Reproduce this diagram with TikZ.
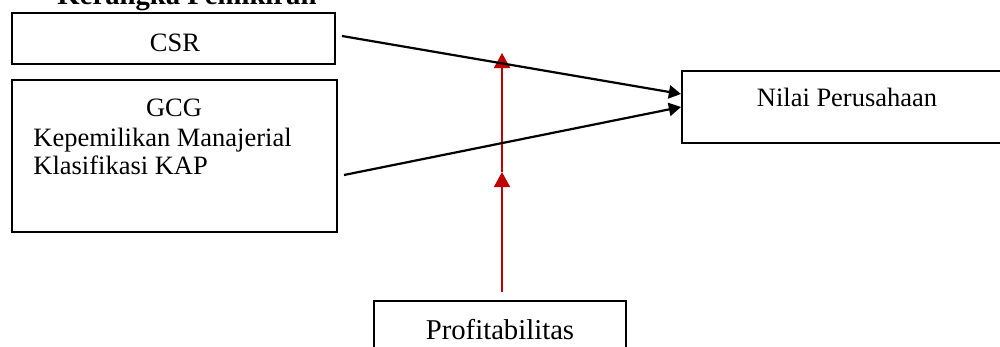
\documentclass[tikz,border=0pt]{standalone}
\usepackage{fontspec}
\setmainfont{Liberation Serif}
\usetikzlibrary{arrows.meta,calc}
\definecolor{profred}{RGB}{192,0,0}
\begin{document}
\begin{tikzpicture}[x=0.453pt,y=-0.453pt,
    kotak/.style={draw,line width=0.9pt,inner sep=0pt},
    teks/.style={inner sep=0pt,font=\fontsize{12}{14}\selectfont},
    panah/.style={line width=1pt,-{Triangle[width=6pt,length=5.5pt]}},
    panahmerah/.style={draw=profred,line width=0.9pt,
      -{Triangle[width=7.2pt,length=6.8pt]},profred}]
  \useasboundingbox (0,0) rectangle (1000,347);
  % judul (terpotong di atas)
  \node[teks,anchor=base west,font=\fontsize{13}{15}\selectfont\bfseries]
    (judul) at (57,4.5) {Kerangka Pemikiran};
  \draw
    (173.5,38.5) node[kotak,minimum width=146.3pt,minimum height=23.1pt] (csr){}
    (174.5,156) node[kotak,minimum width=147.2pt,minimum height=68.9pt] (gcg){}
    (847,107) node[kotak,minimum width=149.5pt,minimum height=32.6pt] (nilai){}
    (500,330) node[kotak,minimum width=114.2pt,minimum height=26.3pt] (prof){};
  \draw
    (175,52) node[teks,anchor=base] (t1){CSR}
    (174,117) node[teks,anchor=base] (t2){GCG}
    (33,147) node[teks,anchor=base west] (t3){Kepemilikan Manajerial}
    (33,175) node[teks,anchor=base west] (t4){Klasifikasi KAP}
    (847,107) node[teks,anchor=base] (t5){Nilai Perusahaan}
    (500,340) node[teks,anchor=base,font=\fontsize{13}{15}\selectfont] (t6){Profitabilitas};
  \coordinate (a1) at (342,36);
  \coordinate (a2) at (344,175);
  \coordinate (m) at (502,172);
  \coordinate (t) at (502,53);
  \begin{scope}[panahmerah]
    \draw[shorten <=3.6pt] (m |- prof.north) to (m);
    \draw (m) to (t);
  \end{scope}
  \begin{scope}[panah]
    \draw (a1) to ($(nilai.west)+(0,-13)$);
    \draw (a2) to (nilai.west);
  \end{scope}
\end{tikzpicture}
\end{document}
